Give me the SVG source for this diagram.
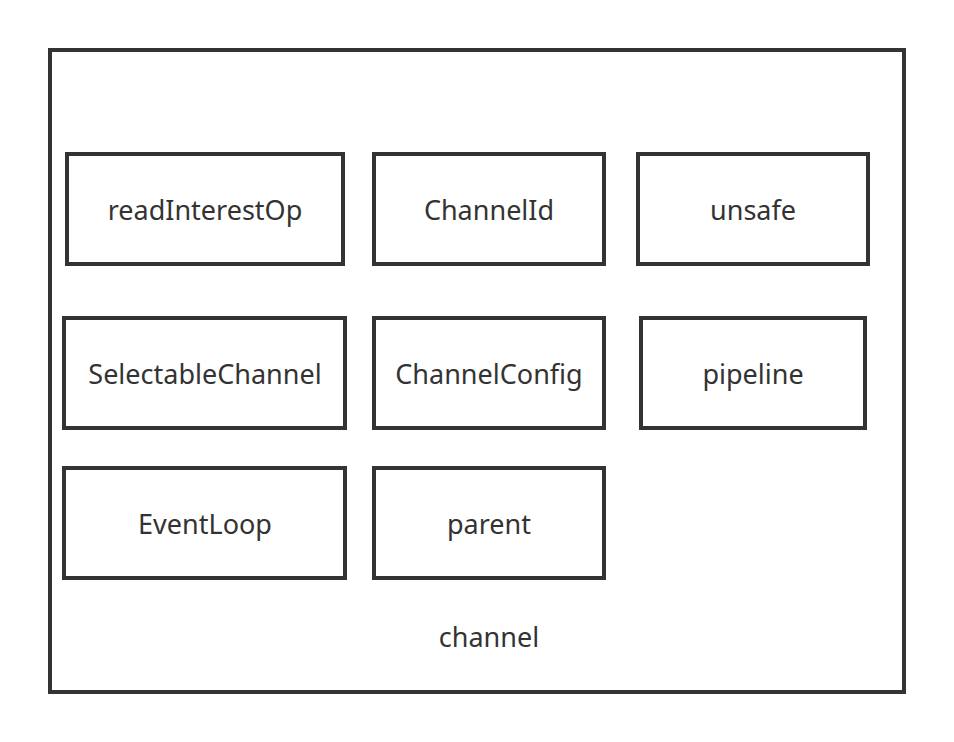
<svg xmlns="http://www.w3.org/2000/svg" width="954" height="742" viewBox="0 0 954 742">
<style>
.box{fill:#fff;stroke:#333;stroke-width:4}
.outer{fill:#fff;stroke:#333;stroke-width:4}
.lbl{font-family:"Noto Sans","Open Sans","Liberation Sans",sans-serif;font-size:27px;fill:#333;text-anchor:middle}
</style>
<rect width="954" height="742" fill="#fff"/>
<g id="channel">
<rect class="outer" x="50" y="50" width="854" height="642"/>
<text class="lbl" x="489" y="647">channel</text>
</g>
<g id="readInterestOp"><rect class="box" x="67" y="154" width="276" height="110"/><text class="lbl" x="205" y="220">readInterestOp</text></g>
<g id="ChannelId"><rect class="box" x="374" y="154" width="230" height="110"/><text class="lbl" x="489" y="220">ChannelId</text></g>
<g id="unsafe"><rect class="box" x="638" y="154" width="230" height="110"/><text class="lbl" x="753" y="220">unsafe</text></g>
<g id="SelectableChannel"><rect class="box" x="64" y="318" width="281" height="110"/><text class="lbl" x="205" y="384">SelectableChannel</text></g>
<g id="ChannelConfig"><rect class="box" x="374" y="318" width="230" height="110"/><text class="lbl" x="489" y="384">ChannelConfig</text></g>
<g id="pipeline"><rect class="box" x="641" y="318" width="224" height="110"/><text class="lbl" x="753" y="384">pipeline</text></g>
<g id="EventLoop"><rect class="box" x="64" y="468" width="281" height="110"/><text class="lbl" x="205" y="534">EventLoop</text></g>
<g id="parent"><rect class="box" x="374" y="468" width="230" height="110"/><text class="lbl" x="489" y="534">parent</text></g>
<g id="connectors"></g>
</svg>
